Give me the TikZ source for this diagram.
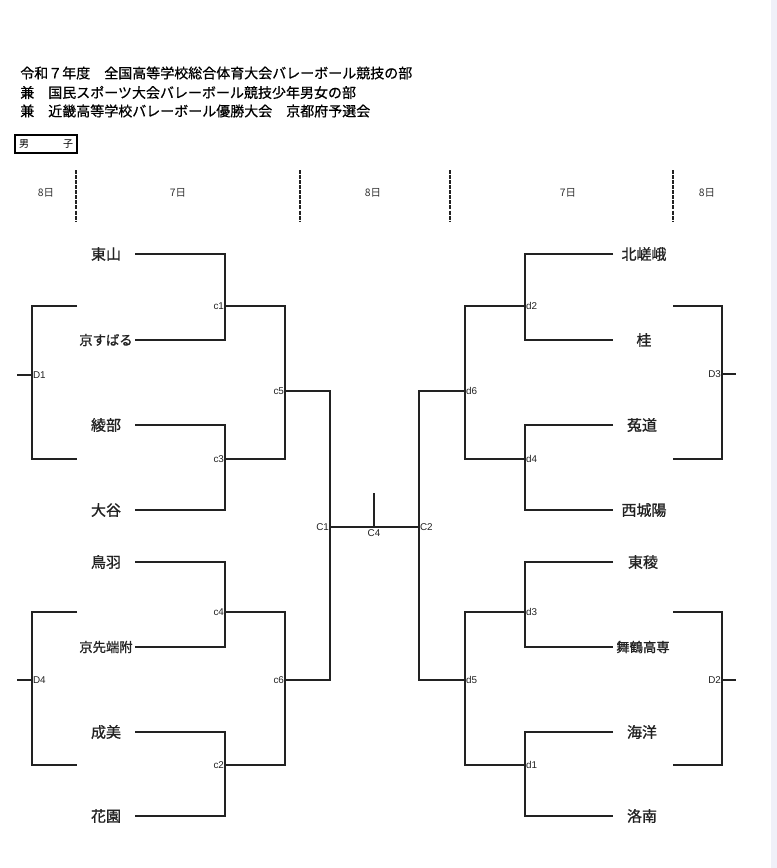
\documentclass[tikz,border=0pt]{standalone}
\usepackage{fontspec}
\setmainfont{Noto Sans CJK JP}
\newfontfamily\boldish[FakeBold=1.0]{Noto Sans CJK JP}
\newfontfamily\headfont[FakeBold=0.6]{Noto Sans CJK JP}
\newfontfamily\lblfont{Liberation Sans}
\definecolor{side}{RGB}{240,240,248}
\definecolor{ink}{RGB}{34,34,34}
\definecolor{dayc}{RGB}{50,50,50}
\begin{document}
\begin{tikzpicture}[x=0.75pt,y=-0.75pt,
  br/.style={line width=1.5pt, draw=ink, line join=miter},
  daydash/.style={line width=1.4pt, draw=ink, dash pattern=on 3pt off 0.8pt},
  head/.style={anchor=west, inner sep=0pt, font=\headfont\fontsize{10.5}{12}\selectfont},
  team/.style={inner sep=0pt, font=\boldish\fontsize{11.25}{13}\selectfont, text=ink},
  teamsm/.style={inner sep=0pt, font=\boldish\fontsize{10}{12}\selectfont, text=ink},
  lbl/.style={inner sep=0.6pt, font=\lblfont\fontsize{7.4}{8}\selectfont, text=ink},
  day/.style={inner sep=0pt, font=\fontsize{7.8}{9}\selectfont, text=dayc}]
\useasboundingbox (0,0) rectangle (777,868);
\fill[white] (0,0) rectangle (777,868);
\fill[side] (771,0) rectangle (777,868);

% header
\node[head] (h1) at (20,73) {令和７年度　全国高等学校総合体育大会バレーボール競技の部};
\node[head] (h2) at (20,92.5) {兼　国民スポーツ大会バレーボール競技少年男女の部};
\node[head] (h3) at (20,111) {兼　近畿高等学校バレーボール優勝大会　京都府予選会};

% 男子 box
\node[draw=black, line width=2pt, minimum width=46.5pt, minimum height=13.5pt, inner sep=0pt] (box) at (46,144) {};
\node[inner sep=0pt, font=\fontsize{7.5}{9}\selectfont] (bm) at (24,144) {男};
\node[inner sep=0pt, font=\fontsize{7.5}{9}\selectfont] (bk) at (68,144) {子};

% day row
\coordinate (v1t) at (76,170); \coordinate (v1b) at (76,221);
\coordinate (v2t) at (300,170); \coordinate (v2b) at (300,221);
\coordinate (v3t) at (450,170); \coordinate (v3b) at (450,221);
\coordinate (v4t) at (673,170); \coordinate (v4b) at (673,221);
\draw[daydash] (v1t) -- (v1b);
\draw[daydash] (v2t) -- (v2b);
\draw[daydash] (v3t) -- (v3b);
\draw[daydash] (v4t) -- (v4b);
\node[day] (dy1) at (46,193) {8日};
\node[day] (dy2) at (178,193) {7日};
\node[day] (dy3) at (373,193) {8日};
\node[day] (dy4) at (568,193) {7日};
\node[day] (dy5) at (707,193) {8日};

% left teams
\node[team] (n1) at (106,254) {東山};
\node[teamsm] (n2) at (106,340) {京すばる};
\node[team] (n3) at (106,425) {綾部};
\node[team] (n4) at (106,510) {大谷};
\node[team] (n5) at (106,562) {鳥羽};
\node[teamsm] (n6) at (106,647) {京先端附};
\node[team] (n7) at (106,732) {成美};
\node[team] (n8) at (106,816) {花園};
% right teams
\node[team] (m1) at (644,254) {北嵯峨};
\node[team] (m2) at (644,340) {桂};
\node[team] (m3) at (642,425) {菟道};
\node[team] (m4) at (644,510) {西城陽};
\node[team] (m5) at (643,562) {東稜};
\node[teamsm] (m6) at (643,647) {舞鶴高専};
\node[team] (m7) at (642,732) {海洋};
\node[team] (m8) at (642,816) {洛南};

% line ends
\coordinate (la1) at (135,254); \coordinate (la2) at (135,340);
\coordinate (la3) at (135,425); \coordinate (la4) at (135,510);
\coordinate (la5) at (135,562); \coordinate (la6) at (135,647);
\coordinate (la7) at (135,732); \coordinate (la8) at (135,816);
\coordinate (ra1) at (613,254); \coordinate (ra2) at (613,340);
\coordinate (ra3) at (613,425); \coordinate (ra4) at (613,510);
\coordinate (ra5) at (613,562); \coordinate (ra6) at (613,647);
\coordinate (ra7) at (613,732); \coordinate (ra8) at (613,816);
% junctions
\coordinate (c1) at (225,306); \coordinate (c3) at (225,459);
\coordinate (c4) at (225,612); \coordinate (c2) at (225,765);
\coordinate (c5) at (285,391); \coordinate (c6) at (285,680);
\coordinate (C1) at (330,527); \coordinate (C4) at (374,527);
\coordinate (C4t) at (374,493); \coordinate (C2) at (419,527);
\coordinate (d6) at (465,391); \coordinate (d5) at (465,680);
\coordinate (d2) at (525,306); \coordinate (d4) at (525,459);
\coordinate (d3) at (525,612); \coordinate (d1) at (525,765);
% D brackets
\coordinate (D1) at (32,375); \coordinate (D1s) at (17,375);
\coordinate (D1a) at (77,306); \coordinate (D1b) at (77,459);
\coordinate (D4) at (32,680); \coordinate (D4s) at (17,680);
\coordinate (D4a) at (77,612); \coordinate (D4b) at (77,765);
\coordinate (D3) at (722,374); \coordinate (D3s) at (736,374);
\coordinate (D3a) at (673,306); \coordinate (D3b) at (673,459);
\coordinate (D2) at (722,680); \coordinate (D2s) at (736,680);
\coordinate (D2a) at (673,612); \coordinate (D2b) at (673,765);

% left bracket
\draw[br] (la1) -- (la1 -| c1) -- (la2 -| c1) -- (la2);
\draw[br] (la3) -- (la3 -| c3) -- (la4 -| c3) -- (la4);
\draw[br] (la5) -- (la5 -| c4) -- (la6 -| c4) -- (la6);
\draw[br] (la7) -- (la7 -| c2) -- (la8 -| c2) -- (la8);
\draw[br] (c1) -- (c1 -| c5) -- (c3 -| c5) -- (c3);
\draw[br] (c4) -- (c4 -| c6) -- (c2 -| c6) -- (c2);
\draw[br] (c5) -- (c5 -| C1) -- (c6 -| C1) -- (c6);
% center
\draw[br] (C1) -- (C2);
\draw[br] (C4t) -- (C4);
% right bracket
\draw[br] (d6) -- (d6 -| C2) -- (d5 -| C2) -- (d5);
\draw[br] (d2) -- (d2 -| d6) -- (d4 -| d6) -- (d4);
\draw[br] (d3) -- (d3 -| d5) -- (d1 -| d5) -- (d1);
\draw[br] (ra1) -- (ra1 -| d2) -- (ra2 -| d2) -- (ra2);
\draw[br] (ra3) -- (ra3 -| d4) -- (ra4 -| d4) -- (ra4);
\draw[br] (ra5) -- (ra5 -| d3) -- (ra6 -| d3) -- (ra6);
\draw[br] (ra7) -- (ra7 -| d1) -- (ra8 -| d1) -- (ra8);
% D brackets
\draw[br] (D1a) -- (D1a -| D1) -- (D1b -| D1) -- (D1b);
\draw[br] (D1s) -- (D1);
\draw[br] (D4a) -- (D4a -| D4) -- (D4b -| D4) -- (D4b);
\draw[br] (D4s) -- (D4);
\draw[br] (D3a) -- (D3a -| D3) -- (D3b -| D3) -- (D3b);
\draw[br] (D3) -- (D3s);
\draw[br] (D2a) -- (D2a -| D2) -- (D2b -| D2) -- (D2b);
\draw[br] (D2) -- (D2s);

% labels
\node[lbl, anchor=east] (lc1) at (c1) {c1};
\node[lbl, anchor=east] (lc3) at (c3) {c3};
\node[lbl, anchor=east] (lc4) at (c4) {c4};
\node[lbl, anchor=east] (lc2) at (c2) {c2};
\node[lbl, anchor=east] (lc5) at (c5) {c5};
\node[lbl, anchor=east] (lc6) at (c6) {c6};
\node[lbl, anchor=east] (lC1) at (C1) {C1};
\node[lbl, anchor=north] (lC4) at ([yshift=-1pt]C4) {C4};
\node[lbl, anchor=west] (lC2) at (C2) {C2};
\node[lbl, anchor=west] (ld6) at (d6) {d6};
\node[lbl, anchor=west] (ld5) at (d5) {d5};
\node[lbl, anchor=west] (ld2) at (d2) {d2};
\node[lbl, anchor=west] (ld4) at (d4) {d4};
\node[lbl, anchor=west] (ld3) at (d3) {d3};
\node[lbl, anchor=west] (ld1) at (d1) {d1};
\node[lbl, anchor=west] (lD1) at (D1) {D1};
\node[lbl, anchor=west] (lD4) at (D4) {D4};
\node[lbl, anchor=east] (lD3) at (D3) {D3};
\node[lbl, anchor=east] (lD2) at (D2) {D2};
\end{tikzpicture}
\end{document}
